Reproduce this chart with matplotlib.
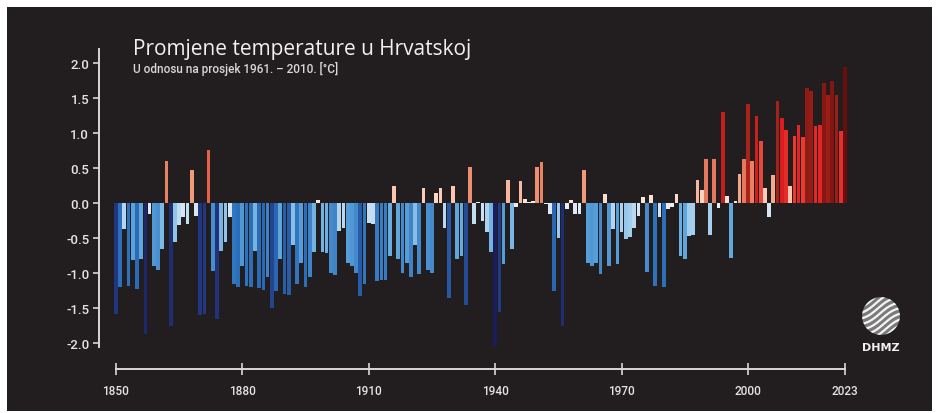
import numpy as np
import matplotlib.pyplot as plt
from matplotlib.colors import LinearSegmentedColormap, Normalize
from matplotlib.patches import Rectangle, Circle

# temperature anomaly vs. 1961-2010 mean
years = np.arange(1850, 2024)
anomaly = [
    -1.59, -1.20, -0.37, -1.18, -0.82, -1.23, -0.80, -1.87, -0.15, -0.90,
    -0.95, -0.65, 0.60, -1.75, -0.55, -0.32, -0.20, -0.30, 0.47, -0.18,
    -1.60, -1.58, 0.76, -0.97, -1.66, -0.68, -0.55, -0.20, -1.15, -1.20,
    -0.90, -1.18, -1.20, -0.68, -1.22, -1.24, -1.05, -1.50, -1.25, -0.80,
    -1.30, -1.32, -0.60, -1.15, -0.85, -1.20, -1.05, -0.70, 0.05, -0.70,
    -0.72, -1.00, -1.03, -0.40, -0.35, -0.85, -0.90, -1.00, -1.33, -1.15,
    -0.28, -0.30, -1.12, -1.10, -1.10, -0.75, 0.25, -0.80, -1.00, -0.85,
    -1.05, -0.60, -1.02, 0.22, -0.95, -1.00, 0.15, 0.22, -0.35, -1.35,
    0.25, -0.80, -0.75, -1.45, 0.52, -0.30, 0.02, -0.25, -0.42, -0.70,
    -2.04, -1.56, -0.87, 0.33, -0.66, -0.06, 0.32, 0.06, 0.02, 0.03,
    0.52, 0.58, -0.02, -0.15, -1.25, -0.50, -1.75, -0.08, 0.05, -0.15,
    -0.15, 0.47, -0.85, -0.90, -0.85, -1.02, 0.13, -0.90, -0.37, -0.87,
    -0.42, -0.52, -0.48, -0.35, -0.18, 0.08, -0.99, 0.12, -1.18, -0.20,
    -1.20, -0.08, -0.05, 0.13, -0.75, -0.80, -0.47, -0.45, 0.33, 0.18,
    0.63, -0.46, 0.63, -0.07, 1.30, 0.10, -0.78, 0.03, 0.41, 0.63,
    1.41, 0.60, 1.25, 0.89, 0.22, -0.20, 0.40, 1.46, 1.21, 1.05,
    0.25, 0.96, 1.12, 0.95, 1.64, 1.60, 1.10, 1.12, 1.72, 1.55,
    1.75, 1.55, 1.03, 1.95,
]
ytick_vals = [-2.0, -1.5, -1.0, -0.5, 0.0, 0.5, 1.0, 1.5, 2.0]
ytick_labels = ['-2.0', '-1.5', '-1.0', '-0.5', '0.0', '0.5', '1.0', '1.5', '2.0']
xtick_vals = [1850, 1880, 1910, 1940, 1970, 2000, 2023]

title = 'Promjene temperature u Hrvatskoj'
subtitle = 'U odnosu na prosjek 1961. \u2013 2010. [\u00b0C]'

BG = '#221e1f'
FG = '#e4e4e4'

# stripes-style diverging palette
stops = [(-2.05, '#1a1d5c'), (-1.6, '#22367f'), (-1.2, '#2b6fbb'),
         (-0.8, '#5ea6dc'), (-0.45, '#a8d0ee'), (-0.1, '#e6eef7'),
         (0.1, '#fbe3d8'), (0.4, '#f5a98a'), (0.65, '#e5765a'),
         (1.0, '#e8332a'), (1.2, '#dd1c1f'), (1.45, '#a5231b'),
         (1.75, '#851612'), (2.05, '#5a0a0a')]
lo, hi = stops[0][0], stops[-1][0]
cmap = LinearSegmentedColormap.from_list(
    'stripes', [((v - lo) / (hi - lo), c) for v, c in stops])
norm = Normalize(lo, hi)

fig = plt.figure(figsize=(9.4, 4.14), dpi=100, facecolor='white')
fig.patches.append(Rectangle((7 / 940, 2 / 414), 925 / 940, 404 / 414,
                             transform=fig.transFigure, facecolor=BG,
                             edgecolor='none', zorder=-10))

ax = fig.add_axes([99 / 940, 44 / 414, 775.5 / 940, 327 / 414])
ax.set_zorder(2)
ax.set_facecolor('none')
vals = np.array(anomaly)
ax.bar(years, vals, width=0.88, color=cmap(norm(vals)), linewidth=0)

ax.set_xlim(1846, 2030)
ax.set_ylim(-2.37, 2.3)
for s in ['top', 'right']:
    ax.spines[s].set_visible(False)
for s in ['left', 'bottom']:
    ax.spines[s].set_color('#d8d8d8')
    ax.spines[s].set_linewidth(1.4)
ax.spines['left'].set_bounds(-2.05, 2.2)
ax.spines['bottom'].set_bounds(1850, 2023)

tickfont = ['Roboto', 'DejaVu Sans']
ax.set_yticks(ytick_vals)
ax.set_yticklabels(ytick_labels, family=tickfont, fontsize=9.5,
                   fontweight='medium', color=FG)
ax.set_xticks(xtick_vals)
ax.set_xticklabels([str(x) for x in xtick_vals], family=tickfont,
                   fontsize=8.5, fontweight='medium', color=FG)
ax.tick_params(axis='y', direction='out', length=4, width=1.2,
               color='#d8d8d8', pad=3)
ax.tick_params(axis='x', direction='inout', length=8, width=1.2,
               color='#d8d8d8', pad=7)

fig.text(133 / 940, 1 - 55 / 414, title, family=['Open Sans', 'DejaVu Sans'],
         fontsize=15, color='#f0f0f0', va='baseline', ha='left')
fig.text(133 / 940, 1 - 73 / 414, subtitle, family=tickfont,
         fontweight='medium', fontsize=8.5, color='#d8d8d8',
         va='baseline', ha='left')

# DHMZ logo: striped sphere + lettering
lax = fig.add_axes([860 / 940, 1 - 338 / 414, 42 / 940, 42 / 414])
lax.set_zorder(3)
lax.set_xlim(-1, 1)
lax.set_ylim(-1, 1)
lax.set_aspect('equal')
lax.axis('off')
disc = Circle((0, 0), 0.9, facecolor='#7a7a7a', edgecolor='none')
lax.add_patch(disc)
t = np.linspace(-1, 1, 60)
for k in np.linspace(-1.6, 1.6, 12):
    line, = lax.plot(t, 0.5 * t + k + 0.12 * np.sin(3 * t + k),
                     color='#f4f4f4', lw=1.6, solid_capstyle='butt')
    line.set_clip_path(disc)
fig.text(881 / 940, 1 - 348 / 414, 'DHMZ', family=['DejaVu Sans'],
         fontweight='bold', fontsize=8, color='#f0f0f0',
         ha='center', va='center')

fig.savefig('out.png', dpi=100, facecolor='white')
